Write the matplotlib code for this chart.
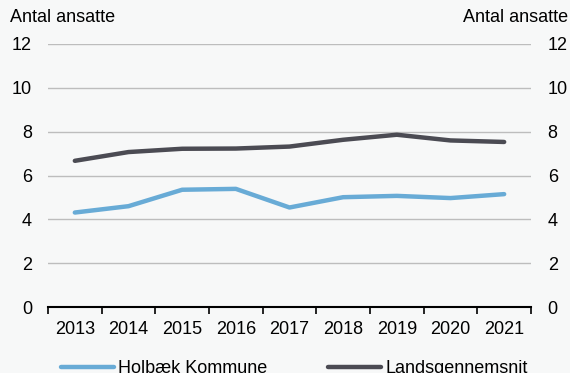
import numpy as np
import matplotlib.pyplot as plt

plt.rcParams['font.family'] = ['Liberation Sans', 'DejaVu Sans']

# data
years = ['2013', '2014', '2015', '2016', '2017', '2018', '2019', '2020', '2021']
holbaek = [4.31, 4.60, 5.35, 5.39, 4.54, 5.01, 5.07, 4.97, 5.15]
lands = [6.67, 7.07, 7.22, 7.23, 7.32, 7.63, 7.86, 7.60, 7.53]
yticks = [0, 2, 4, 6, 8, 10, 12]

bg = '#f7f8f8'
blue = '#68abd6'
dark = '#4b4b53'
fs = 13

fig = plt.figure(figsize=(5.7, 3.73), dpi=100, facecolor=bg)
ax = fig.add_axes([48 / 570, 1 - 307 / 373, 483 / 570, 263 / 373], facecolor=bg)

x = np.arange(len(years))
l1, = ax.plot(x, holbaek, color=blue, lw=3.2, solid_capstyle='round', label='Holbæk Kommune')
l2, = ax.plot(x, lands, color=dark, lw=3.2, solid_capstyle='round', label='Landsgennemsnit')

ax.set_xlim(-0.5, len(years) - 0.5)
ax.set_ylim(0, 12)
ax.set_yticks(yticks)
ax.yaxis.grid(True, color='#bdbdbd', lw=1)
ax.set_axisbelow(True)
ax.tick_params(axis='y', length=0, pad=11.5, labelsize=fs)

ax.set_xticks(x)
ax.set_xticklabels(years)
ax.set_xticks(np.arange(-0.5, len(years)), minor=True)
ax.tick_params(axis='x', which='major', length=0, pad=10, labelsize=fs)
ax.tick_params(axis='x', which='minor', length=5, width=1.2, direction='out')

for s in ['left', 'right', 'top']:
    ax.spines[s].set_visible(False)
ax.spines['bottom'].set_color('black')
ax.spines['bottom'].set_linewidth(1.5)

ax2 = ax.twinx()
ax2.set_ylim(0, 12)
ax2.set_yticks(yticks)
ax2.tick_params(axis='y', length=0, pad=12, labelsize=fs)
for s in ax2.spines.values():
    s.set_visible(False)

fig.text(10 / 570, 1 - 17 / 373, 'Antal ansatte', fontsize=fs, ha='left', va='center')
fig.text(568 / 570, 1 - 17 / 373, 'Antal ansatte', fontsize=fs, ha='right', va='center')

fig.legend(handles=[l1, l2], loc='center', bbox_to_anchor=(0.516, 0.012), ncol=2,
           frameon=False, fontsize=fs, handlelength=2.95, handletextpad=0.22,
           columnspacing=3.35)

fig.savefig('out.png', dpi=100, facecolor=bg)
